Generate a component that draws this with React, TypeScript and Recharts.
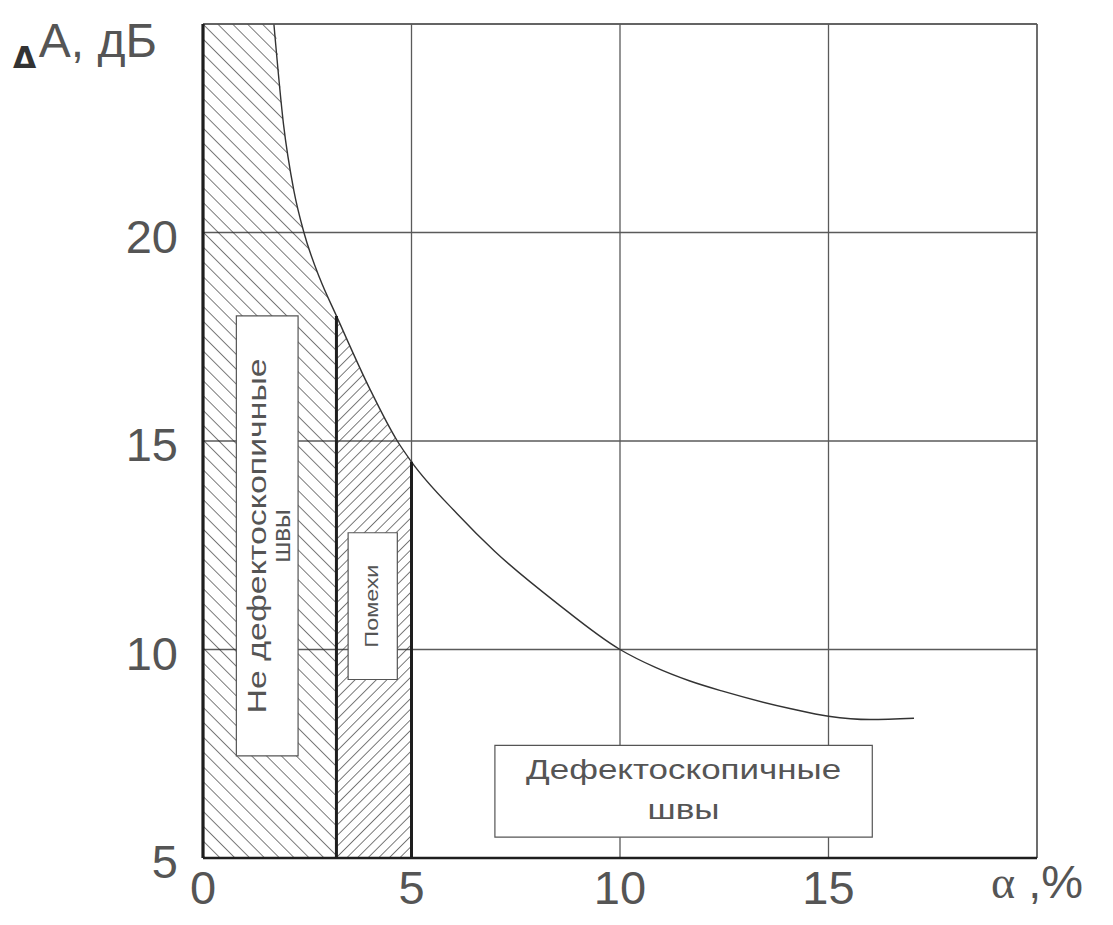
import { ComposedChart, Area, Line, XAxis, YAxis, CartesianGrid, ReferenceLine, ReferenceArea } from "recharts";

// α, % — точки кривой (первая точка — верхний левый угол зоны)
const ALPHA = [0, 1.7, 1.93, 2.18, 2.42, 2.8, 3.2, 4.0, 4.66, 5, 6.1, 7, 8.5, 10, 10.85, 11.66, 12.46, 14.1, 15, 16, 17.05];
// ΔA, дБ
const DELTA_A = [25, 25, 22.6, 21.0, 20, 18.9, 18, 16.25, 15, 14.5, 13.25, 12.35, 11.1, 10, 9.57, 9.25, 9.0, 8.58, 8.4, 8.32, 8.35];

const X_TICKS = [0, 5, 10, 15, 20];
const Y_TICKS = [5, 10, 15, 20, 25];

const CURVE_FROM = 1.7;   // кривая выходит из верхней границы
const NOISE_FROM = 3.2;   // граница «не дефектоскопичные» / «помехи»
const NOISE_TO = 5;       // граница «помехи» / «дефектоскопичные»

const LABEL_1 = ["Не дефектоскопичные", "швы"];
const LABEL_2 = ["Помехи"];
const LABEL_3 = ["Дефектоскопичные", "швы"];

const SANS = "'Liberation Sans', Arial, sans-serif";
const INK = "#555";

const rows = ALPHA.map((a, i) => ({
  a,
  curve: a >= CURVE_FROM ? DELTA_A[i] : null,
  r1: a <= NOISE_FROM ? DELTA_A[i] : null,
  r2: a >= NOISE_FROM && a <= NOISE_TO ? DELTA_A[i] : null,
}));

const yAt = (a: number) => DELTA_A[ALPHA.indexOf(a)];

function XTick({ x, y, payload }: any) {
  if (payload.value === 20) {
    return (
      <text x={x} y={y + 40} textAnchor="middle" fill={INK}>
        <tspan fontFamily="'Liberation Serif', serif" fontSize={46}>α</tspan>
        <tspan fontFamily={SANS} fontSize={47}> ,%</tspan>
      </text>
    );
  }
  return (
    <text x={x} y={y + 46} textAnchor="middle" fontFamily={SANS} fontSize={47} fill={INK}>
      {payload.value}
    </text>
  );
}

function YTick({ x, y, payload }: any) {
  if (payload.value === 25) {
    return (
      <g>
        <text x={x - 190} y={y + 44} fontFamily="'DejaVu Sans', sans-serif" fontWeight="bold" fontSize={30} fill="#333">Δ</text>
        <text x={x - 46} y={y + 33} textAnchor="end" fontFamily={SANS} fontSize={48} fill={INK}>A, дБ</text>
      </g>
    );
  }
  return (
    <text x={x - 25} y={y + 20} textAnchor="end" fontFamily={SANS} fontSize={47} fill={INK}>
      {payload.value}
    </text>
  );
}

function BoxText(props: any) {
  const vb = props.viewBox || props;
  const { x, y, width, height } = vb;
  const cx = x + width / 2;
  const cy = y + height / 2;
  const { lines, vertical, dys, sizes, lens } = props;
  return (
    <g transform={vertical ? `rotate(-90 ${cx} ${cy})` : undefined}>
      {lines.map((t: string, i: number) => (
        <text
          key={i}
          x={cx}
          y={cy + dys[i]}
          textAnchor="middle"
          fontFamily={SANS}
          fontSize={sizes[i]}
          fill={INK}
          textLength={lens[i] || undefined}
          lengthAdjust="spacingAndGlyphs"
        >
          {t}
        </text>
      ))}
    </g>
  );
}

export default function App() {
  return (
    <ComposedChart width={1097} height={909} data={rows} margin={{ top: 16, right: 68, bottom: 0, left: 0 }}>
      <defs>
        <pattern id="hatchBack" width="10.5" height="10.5" patternUnits="userSpaceOnUse" patternTransform="rotate(-45)">
          <line x1="0" y1="0" x2="0" y2="10.5" stroke="#222" strokeWidth="1.2" />
        </pattern>
        <pattern id="hatchFwd" width="7.5" height="7.5" patternUnits="userSpaceOnUse" patternTransform="rotate(45)">
          <line x1="0" y1="0" x2="0" y2="7.5" stroke="#222" strokeWidth="1.2" />
        </pattern>
      </defs>
      <CartesianGrid stroke="#5a5a5a" strokeWidth={1.3} />
      <XAxis
        type="number"
        dataKey="a"
        domain={[0, 20]}
        ticks={X_TICKS}
        interval={0}
        axisLine={false}
        tickLine={false}
        tickSize={0}
        tickMargin={0}
        height={59}
        tick={(p: any) => <XTick {...p} />}
      />
      <YAxis
        type="number"
        domain={[5, 25]}
        ticks={Y_TICKS}
        interval={0}
        axisLine={false}
        tickLine={false}
        tickSize={0}
        tickMargin={0}
        width={195}
        tick={(p: any) => <YTick {...p} />}
      />
      <Area dataKey="r1" type="monotone" baseValue={5} fill="url(#hatchBack)" fillOpacity={1} stroke="none" isAnimationActive={false} />
      <Area dataKey="r2" type="monotone" baseValue={5} fill="url(#hatchFwd)" fillOpacity={1} stroke="none" isAnimationActive={false} />
      <Line dataKey="curve" type="monotone" stroke="#333" strokeWidth={1.4} dot={false} isAnimationActive={false} />

      <ReferenceLine x={20} stroke="#5a5a5a" strokeWidth={1.3} />
      <ReferenceLine y={25} stroke="#5a5a5a" strokeWidth={1.3} />
      <ReferenceLine x={0} stroke="#1e1e1e" strokeWidth={3.2} />
      <ReferenceLine y={5} stroke="#1e1e1e" strokeWidth={2.6} />
      <ReferenceLine segment={[{ x: NOISE_FROM, y: 5 }, { x: NOISE_FROM, y: yAt(NOISE_FROM) }]} stroke="#1e1e1e" strokeWidth={3} />
      <ReferenceLine segment={[{ x: NOISE_TO, y: 5 }, { x: NOISE_TO, y: yAt(NOISE_TO) }]} stroke="#1e1e1e" strokeWidth={3} />

      <ReferenceArea
        x1={0.8} x2={2.28} y1={7.45} y2={18}
        fill="#fff" fillOpacity={1} stroke="#555" strokeWidth={1.2}
        label={<BoxText lines={LABEL_1} vertical dys={[-1.5, 22.5]} sizes={[25, 26]} lens={[355, 0]} />}
      />
      <ReferenceArea
        x1={3.48} x2={4.66} y1={9.28} y2={12.8}
        fill="#fff" fillOpacity={1} stroke="#555" strokeWidth={1.2}
        label={<BoxText lines={LABEL_2} vertical dys={[5]} sizes={[18]} lens={[83]} />}
      />
      <ReferenceArea
        x1={7} x2={16.05} y1={5.5} y2={7.7}
        fill="#fff" fillOpacity={1} stroke="#555" strokeWidth={1.2}
        label={<BoxText lines={LABEL_3} dys={[-12, 28]} sizes={[27, 27]} lens={[315, 72]} />}
      />
    </ComposedChart>
  );
}
